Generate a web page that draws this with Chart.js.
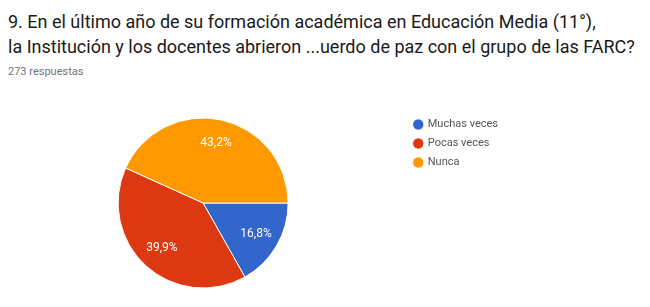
<!DOCTYPE html>
<html>
<head>
<meta charset="utf-8">
<script src="https://cdn.jsdelivr.net/npm/chart.js@4"></script>
<style>
  body { margin: 0; background: #fff; width: 650px; height: 307px; overflow: hidden; position: relative; font-family: Roboto, "Liberation Sans", sans-serif; }
  .title { position: absolute; left: 8px; top: 9px; font-size: 18px; line-height: 25px; color: #1a1a1a; white-space: nowrap; }
  .sub { position: absolute; left: 8px; top: 65px; font-size: 11px; color: #757575; }
  #wrap { position: absolute; left: 0; top: 105px; width: 650px; height: 190px; }
</style>
</head>
<body>
<div class="title">9. En el último año de su formación académica en Educación Media (11°),<br>la Institución y los docentes abrieron ...uerdo de paz con el grupo de las FARC?</div>
<div class="sub">273 respuestas</div>
<div id="wrap"><canvas id="pie"></canvas></div>
<script>
// Chart data
const categories = ['Muchas veces', 'Pocas veces', 'Nunca'];
const percentValues = [16.8, 39.9, 43.2];
const sliceColors = ['#3366cc', '#dc3912', '#ff9900'];

// Draw percentage labels inside each slice
const sliceLabels = {
    id: 'sliceLabels',
    afterDatasetsDraw(chart) {
        const ctx = chart.ctx;
        const meta = chart.getDatasetMeta(0);
        ctx.save();
        ctx.fillStyle = '#ffffff';
        ctx.font = '12px Roboto, "Liberation Sans", sans-serif';
        ctx.textAlign = 'center';
        ctx.textBaseline = 'middle';
        meta.data.forEach((arc, i) => {
            const p = arc.getProps(['x', 'y', 'startAngle', 'endAngle', 'outerRadius'], true);
            const mid = (p.startAngle + p.endAngle) / 2;
            const r = p.outerRadius * 0.72;
            const label = percentValues[i].toFixed(1).replace('.', ',') + '%';
            ctx.fillText(label, p.x + Math.cos(mid) * r, p.y + Math.sin(mid) * r);
        });
        ctx.restore();
    }
};

document.addEventListener('DOMContentLoaded', function() {
    const ctx = document.getElementById('pie');
    new Chart(ctx, {
        type: 'pie',
        data: {
            labels: categories,
            datasets: [{
                data: percentValues,
                backgroundColor: sliceColors,
                borderColor: '#ffffff',
                borderWidth: 1
            }]
        },
        options: {
            responsive: true,
            maintainAspectRatio: false,
            animation: false,
            rotation: 90,
            radius: 85,
            layout: { padding: { top: 6, right: 142 } },
            plugins: {
                legend: {
                    position: 'right',
                    align: 'start',
                    labels: {
                        usePointStyle: true,
                        pointStyle: 'circle',
                        boxWidth: 8,
                        boxHeight: 8,
                        padding: 8,
                        color: '#555555',
                        font: { size: 11, family: 'Roboto, "Liberation Sans", sans-serif' }
                    }
                },
                tooltip: { enabled: false }
            }
        },
        plugins: [sliceLabels]
    });
});
</script>
</body>
</html>
